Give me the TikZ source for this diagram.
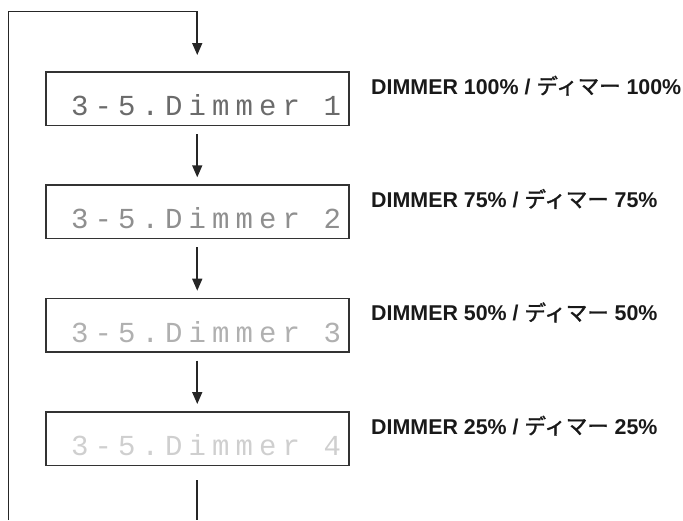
\documentclass[tikz,border=0pt]{standalone}
\usepackage{fontspec}
\setmainfont{Liberation Sans}
\newfontfamily\lcdfont[LetterSpace=21]{Liberation Mono}
\newfontfamily\jpfont[FakeBold=1.6]{Noto Sans CJK JP}
\usetikzlibrary{arrows.meta}
\begin{document}
\begin{tikzpicture}[x=1pt,y=-1pt,
  line/.style={draw=black!85, line width=1.6pt, line join=miter},
  arr/.style={line, -{Triangle[length=12pt,width=10pt]}},
  lcd/.style={draw=black!80, line width=1.5pt, minimum width=303pt, minimum height=53.5pt, inner sep=0pt, anchor=north west},
  lcdtext/.style={anchor=base west, font=\lcdfont\fontsize{29}{29}\selectfont, inner sep=0pt},
  lbl/.style={anchor=base west, font=\bfseries\fontsize{21.4}{24}\selectfont, inner sep=0pt, text=black!90}]
\useasboundingbox (0,0) rectangle (683,520);

\node[lcd] (b1) at (45,71) {};
\node[lcd] (b2) at (45,184.3) {};
\node[lcd] (b3) at (45,297.7) {};
\node[lcd] (b4) at (45,411) {};

\node[lcdtext, text=black!58] (t1) at (71,115.5) {3-5.Dimmer 1};
\node[lcdtext, text=black!44] (t2) at (71,228.8) {3-5.Dimmer 2};
\node[lcdtext, text=black!31] (t3) at (71,342.2) {3-5.Dimmer 3};
\node[lcdtext, text=black!19] (t4) at (71,455.5) {3-5.Dimmer 4};

\node[lbl] (l1) at (371,94) {DIMMER 100\% / {\jpfont\mdseries ディマー} 100\%};
\node[lbl] (l2) at (371,207.3) {DIMMER 75\% / {\jpfont\mdseries ディマー} 75\%};
\node[lbl] (l3) at (371,320.7) {DIMMER 50\% / {\jpfont\mdseries ディマー} 50\%};
\node[lbl] (l4) at (371,434) {DIMMER 25\% / {\jpfont\mdseries ディマー} 25\%};

\coordinate (bl) at (8.5,520);
\coordinate (tl) at (8.5,11.5);
\coordinate (bend) at (b4.south |- bl);

\draw[arr, shorten >=16pt] (bl) -- (tl) -| (b1.north);
\draw[arr, shorten <=8pt, shorten >=7pt] (b1.south) -- (b2.north);
\draw[arr, shorten <=8pt, shorten >=7pt] (b2.south) -- (b3.north);
\draw[arr, shorten <=8pt, shorten >=7pt] (b3.south) -- (b4.north);
\draw[line, shorten <=14pt] (b4.south) -- (bend);
\end{tikzpicture}
\end{document}
